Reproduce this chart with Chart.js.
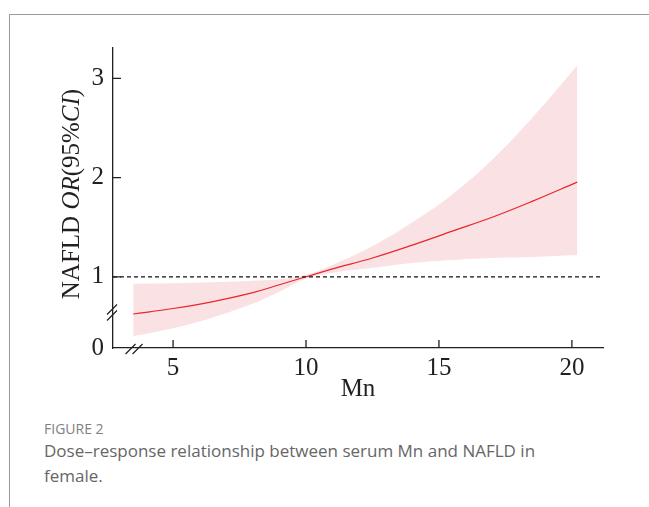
<!DOCTYPE html>
<html>
<head>
<meta charset="utf-8">
<script src="https://cdn.jsdelivr.net/npm/chart.js@4/dist/chart.umd.min.js"></script>
<style>
  html, body { margin: 0; padding: 0; background: #fff; }
  body { width: 649px; height: 507px; position: relative; overflow: hidden; }
  .frame { position: absolute; left: 9px; top: 14px; width: 700px; height: 600px;
           border-top: 1px solid #9a9a9a; border-left: 1px solid #9a9a9a; }
  #wrap { position: absolute; left: 0; top: 0; width: 649px; height: 410px; }
  .cap { position: absolute; left: 44px; font-family: "Open Sans", sans-serif; color: #666; }
  .cap-label { top: 419px; font-size: 14px; font-weight: 500; color: #808080; }
  .cap-text { top: 438px; font-size: 17px; line-height: 25px; }
</style>
</head>
<body>
<div class="frame"></div>
<div id="wrap"><canvas id="c"></canvas></div>
<div class="cap cap-label">FIGURE 2</div>
<div class="cap cap-text">Dose–response relationship between serum Mn and NAFLD in<br>female.</div>
<script>
// values (Mn on x, odds ratio on y)
const mnValues = [3.5, 5, 6.5, 8, 9, 10, 11, 12.5, 14, 15.5, 17, 18.5, 20.2];
const orValues = [0.625, 0.68, 0.75, 0.84, 0.92, 1.00, 1.08, 1.19, 1.32, 1.46, 1.60, 1.76, 1.955];
const upperCI  = [0.93, 0.935, 0.945, 0.96, 0.975, 1.02, 1.12, 1.31, 1.55, 1.83, 2.18, 2.60, 3.13];
const lowerCI  = [0.40, 0.48, 0.59, 0.73, 0.85, 0.98, 1.04, 1.09, 1.14, 1.17, 1.19, 1.20, 1.22];

const xRange = [2.74, 21.17];
const yRange = [0.282, 3.307];   // bottom of the broken axis is labelled "0"
const xTicks = [5, 10, 15, 20];
const yTicks = [1, 2, 3];
const refLineY = 1;
const yBreakAt = 0.64;
const xBreakAt = 3.55;

const axisColor = '#231f20';
const serif = '"Liberation Serif", "Times New Roman", serif';

const pts = (ys) => mnValues.map((x, i) => ({ x, y: ys[i] }));

// Inward tick marks, drawn from the scales' own pixel mapping
const inwardTicks = {
  id: 'inwardTicks',
  afterDraw(chart) {
    const { ctx, chartArea: a, scales: { x, y } } = chart;
    ctx.save();
    ctx.strokeStyle = axisColor;
    ctx.lineWidth = 1.3;
    ctx.beginPath();
    xTicks.forEach(v => { const px = x.getPixelForValue(v); ctx.moveTo(px, a.bottom); ctx.lineTo(px, a.bottom - 8); });
    yTicks.forEach(v => { const py = y.getPixelForValue(v); ctx.moveTo(a.left, py); ctx.lineTo(a.left + 8, py); });
    ctx.stroke();
    ctx.restore();
  },
};

// the two "//" axis-break marks
const axisBreaks = {
  id: 'axisBreaks',
  afterDraw(chart) {
    const { ctx, chartArea: a, scales: { x, y } } = chart;
    const slash = (cx, cy) => { ctx.moveTo(cx - 5, cy + 5); ctx.lineTo(cx + 5, cy - 5); };
    ctx.save();
    ctx.strokeStyle = axisColor;
    ctx.lineWidth = 1.2;
    ctx.beginPath();
    const by = y.getPixelForValue(yBreakAt);
    slash(a.left - 1, by - 3); slash(a.left - 1, by + 3);
    const bx = x.getPixelForValue(xBreakAt);
    slash(bx - 4, a.bottom + 1); slash(bx + 3, a.bottom + 1);
    ctx.stroke();
    ctx.restore();
  },
};

// y title with italic OR and CI
const yTitle = {
  id: 'yTitle',
  afterDraw(chart) {
    const { ctx, chartArea: a } = chart;
    const parts = [['NAFLD ', false], ['OR', true], ['(95%', false], ['CI', true], [')', false]];
    const font = (it) => (it ? 'italic ' : '') + '25px ' + serif;
    ctx.save();
    let w = 0;
    parts.forEach(([t, it]) => { ctx.font = font(it); w += ctx.measureText(t).width; });
    ctx.translate(a.left - 34, (a.top + a.bottom) / 2 - 4);
    ctx.rotate(-Math.PI / 2);
    ctx.fillStyle = axisColor;
    ctx.textBaseline = 'alphabetic';
    let cx = -w / 2;
    parts.forEach(([t, it]) => { ctx.font = font(it); ctx.fillText(t, cx, 0); cx += ctx.measureText(t).width; });
    ctx.restore();
  },
};

new Chart(document.getElementById('c'), {
  type: 'line',
  data: {
    datasets: [
      // lower "order" is drawn on top, so the band gets the highest
      { data: pts(upperCI), order: 3, fill: '+1', backgroundColor: 'rgb(250,226,228)', borderWidth: 0, pointRadius: 0, tension: 0.4 },
      { data: pts(lowerCI), order: 2, fill: false, borderWidth: 0, pointRadius: 0, tension: 0.4 },
      { data: pts(orValues), order: 1, borderColor: '#e8252b', borderWidth: 1.2, pointRadius: 0, tension: 0.4, fill: false },
      { data: xRange.map(x => ({ x, y: refLineY })), order: 0, borderColor: '#111', borderWidth: 1.2, borderDash: [4, 3], pointRadius: 0, fill: false },
    ],
  },
  options: {
    responsive: true,
    maintainAspectRatio: false,
    animation: false,
    layout: { padding: { left: 0, top: 48, right: 46, bottom: 0 } },
    plugins: { legend: { display: false }, tooltip: { enabled: false } },
    scales: {
      x: {
        type: 'linear',
        min: xRange[0], max: xRange[1],
        afterBuildTicks: (s) => { s.ticks = xTicks.map(value => ({ value })); },
        afterFit: (s) => { s.height = 62; },
        border: { display: true, color: axisColor, width: 1.3 },
        grid: { color: 'transparent', drawTicks: false },
        ticks: { color: axisColor, padding: 5, maxRotation: 0, font: { family: serif, size: 25 } },
        title: { display: true, text: 'Mn', color: axisColor, font: { family: serif, size: 25, lineHeight: 1 }, padding: { top: 0, bottom: 8 } },
      },
      y: {
        type: 'linear',
        min: yRange[0], max: yRange[1],
        afterBuildTicks: (s) => { s.ticks = [yRange[0], ...yTicks].map(value => ({ value })); },
        afterFit: (s) => { s.width = 113; },
        border: { display: true, color: axisColor, width: 1.3 },
        grid: { color: 'transparent', drawTicks: false },
        ticks: { color: axisColor, padding: 9, font: { family: serif, size: 25 },
                 callback: (v) => (v === yRange[0] ? '0' : v) },
      },
    },
  },
  plugins: [inwardTicks, axisBreaks, yTitle],
});
</script>
</body>
</html>
